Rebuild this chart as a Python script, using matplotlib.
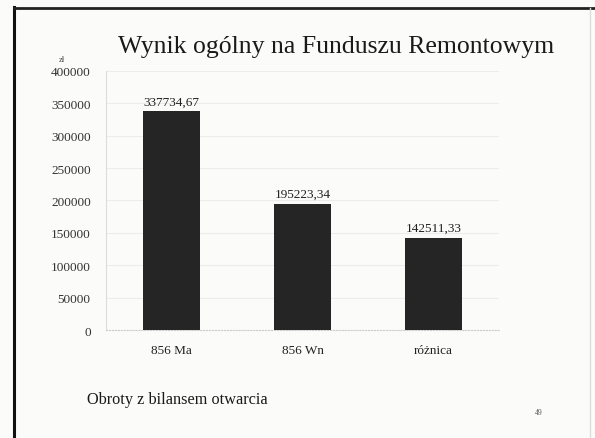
import matplotlib.pyplot as plt
from matplotlib.lines import Line2D

categories = ["856 Ma", "856 Wn", "różnica"]
values = [337734.67, 195223.34, 142511.33]
value_labels = ["337734,67", "195223,34", "142511,33"]
yticks = [0, 50000, 100000, 150000, 200000, 250000, 300000, 350000, 400000]

plt.rcParams['font.family'] = ['Liberation Serif', 'DejaVu Serif']

W, H = 595, 439
fig = plt.figure(figsize=(W / 100, H / 100), dpi=100)
fig.patch.set_facecolor("#fbfbf9")

ax = fig.add_axes([106 / W, 1 - 331 / H, 393 / W, 259 / H])
ax.set_facecolor("#fbfbf9")
x = list(range(len(categories)))
ax.bar(x, values, width=0.43, color="#252525", zorder=3)
for xi, v, lab in zip(x, values, value_labels):
    ax.text(xi, v + 6000, lab, ha="center", va="bottom", fontsize=9.5, color="#222222")

ax.set_xlim(-0.5, 2.5)
ax.set_ylim(0, 400000)
ax.set_yticks(yticks)
ax.set_yticklabels([str(t) for t in yticks])
ax.set_xticks(x)
ax.set_xticklabels(categories)
ax.tick_params(axis="y", length=0, pad=11, labelsize=9.5, colors="#333333")
ax.tick_params(axis="x", length=0, pad=10, labelsize=9.5, colors="#222222")
ax.grid(axis="y", color="#ececec", linewidth=0.8, zorder=0)
for s in ["top", "right"]:
    ax.spines[s].set_visible(False)
ax.spines["left"].set_color("#dddddd")
ax.spines["bottom"].set_color("#cccccc")
ax.spines["bottom"].set_linestyle(":")

fig.text(336 / W, 1 - 47 / H, "Wynik ogólny na Funduszu Remontowym", ha="center", va="center",
         fontsize=18.5, color="#1a1a1a")
fig.text(62 / W, 1 - 60 / H, "zł", ha="center", va="center", fontsize=6, color="#444444")
fig.text(87 / W, 1 - 400 / H, "Obroty z bilansem otwarcia", ha="left", va="center",
         fontsize=11.7, color="#1a1a1a")
fig.text(539 / W, 1 - 413 / H, "49", ha="center", va="center", fontsize=5.5, color="#555555")

# slide frame
fig.add_artist(Line2D([14 / W, 14 / W], [0, 1 - 8 / H], color="#111111", linewidth=2.2))
fig.add_artist(Line2D([14 / W, 1], [1 - 9 / H, 1 - 9 / H], color="#222222", linewidth=2.0))
fig.add_artist(Line2D([590 / W, 590 / W], [0, 1 - 9 / H], color="#dddddd", linewidth=1.0))

fig.savefig("out.png", dpi=100, facecolor=fig.get_facecolor())
